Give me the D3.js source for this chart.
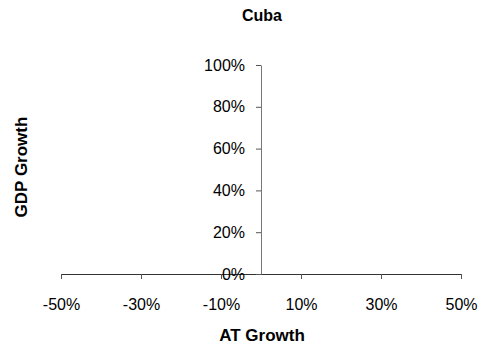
<!DOCTYPE html>
<html>
<head>
<meta charset="utf-8">
<script src="https://cdn.jsdelivr.net/npm/d3@7"></script>
<style>
  body { margin: 0; background: #fff; }
  svg { display: block; }
</style>
</head>
<body>
<svg id="chart" width="482" height="350"></svg>
<script>
// chart values
const chartTitle = "Cuba";
const xTicks = [-50, -30, -10, 10, 30, 50];
const yTicks = [0, 20, 40, 60, 80, 100];
const xDomain = [-50, 50];
const yDomain = [0, 100];
// no points were plotted for this country
const atGrowth = [];
const gdpGrowth = [];

let svg = d3.select("#chart");
let font = "Liberation Sans, Arial, sans-serif";

let x = d3.scaleLinear()
  .domain(xDomain)
  .range([61, 461]);
let y = d3.scaleLinear()
  .domain(yDomain)
  .range([274, 65]);

// x axis, crossing at y = 0
svg.append("g")
  .attr("transform", "translate(0," + y(0) + ")")
  .style("font-family", font)
  .style("font-size", "16px")
  .call(d3.axisBottom(x).tickValues(xTicks).tickFormat(d => d + "%")
    .tickSizeInner(5).tickSizeOuter(0).tickPadding(20))
  .call(g => g.select(".domain").attr("stroke", "#333"))
  .call(g => g.selectAll(".tick line").attr("stroke", "#555"))
  .call(g => g.selectAll(".tick text").attr("fill", "#000"));

// y axis, crossing at x = 0
svg.append("g")
  .attr("transform", "translate(" + x(0) + ",0)")
  .style("font-family", font)
  .style("font-size", "16px")
  .call(d3.axisLeft(y).tickValues(yTicks).tickFormat(d => d + "%")
    .tickSizeInner(5).tickSizeOuter(0).tickPadding(11))
  .call(g => g.select(".domain").attr("stroke", "#777"))
  .call(g => g.selectAll(".tick line").attr("stroke", "#555"))
  .call(g => g.selectAll(".tick text").attr("fill", "#000"));

// points (empty series)
svg.selectAll(".pt")
  .data(atGrowth.map((d, i) => [d, gdpGrowth[i]]))
  .enter()
  .append("circle")
  .attr("class", "pt")
  .attr("cx", d => x(d[0]))
  .attr("cy", d => y(d[1]))
  .attr("r", 3)
  .style("fill", "#000080");

// title
svg.append("text")
  .attr("x", 262)
  .attr("y", 21)
  .attr("text-anchor", "middle")
  .text(chartTitle)
  .style("font-family", font)
  .style("font-weight", "bold")
  .style("font-size", "16px");

// axis titles
svg.append("text")
  .attr("x", 262)
  .attr("y", 341)
  .attr("text-anchor", "middle")
  .text("AT Growth")
  .style("font-family", font)
  .style("font-weight", "bold")
  .style("font-size", "17px");
svg.append("text")
  .attr("transform", "translate(27,167) rotate(-90)")
  .attr("text-anchor", "middle")
  .text("GDP Growth")
  .style("font-family", font)
  .style("font-weight", "bold")
  .style("font-size", "17px");
</script>
</body>
</html>
